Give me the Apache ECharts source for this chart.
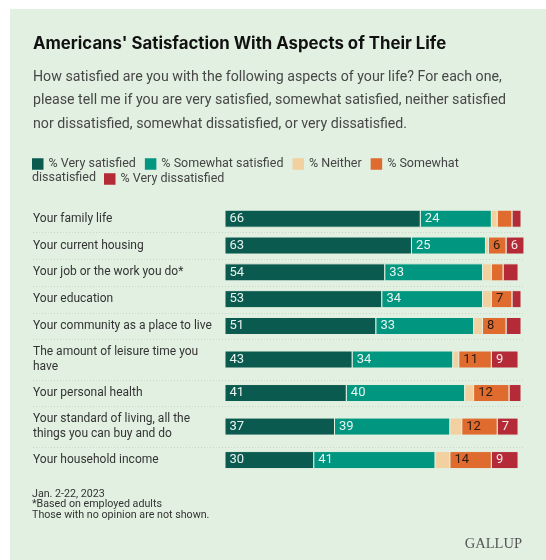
<!DOCTYPE html>
<html>
<head>
<meta charset="utf-8">
<script src="https://cdn.jsdelivr.net/npm/echarts@6/dist/echarts.min.js"></script>
<style>
  html, body { margin: 0; padding: 0; background: #ffffff; }
  #wrap { position: relative; width: 546px; height: 560px; background: #ffffff; overflow: hidden; }
  #panel { position: absolute; left: 10px; top: 9px; right: 0; bottom: 0; background: #e2f0e1; }
  #chart { position: absolute; left: 0; top: 0; width: 546px; height: 560px; }
</style>
</head>
<body>
<div id="wrap"><div id="panel"></div><div id="chart"></div></div>
<script>
// ---- data ----
const categories = [
  'Your family life',
  'Your current housing',
  'Your job or the work you do*',
  'Your education',
  'Your community as a place to live',
  'The amount of leisure time you\nhave',
  'Your personal health',
  'Your standard of living, all the\nthings you can buy and do',
  'Your household income'
];
const seriesNames = ['% Very satisfied', '% Somewhat satisfied', '% Neither', '% Somewhat dissatisfied', '% Very dissatisfied'];
const verySatisfied        = [66, 63, 54, 53, 51, 43, 41, 37, 30];
const somewhatSatisfied    = [24, 25, 33, 34, 33, 34, 40, 39, 41];
const neither              = [2, 1, 3, 3, 3, 2, 3, 4, 5];
const somewhatDissatisfied = [5, 6, 4, 7, 8, 11, 12, 12, 14];
const veryDissatisfied     = [3, 6, 5, 3, 5, 9, 4, 7, 9];
const titleText = "Americans' Satisfaction With Aspects of Their Life";
const subtitleText = 'How satisfied are you with the following aspects of your life? For each one,\nplease tell me if you are very satisfied, somewhat satisfied, neither satisfied\nnor dissatisfied, somewhat dissatisfied, or very dissatisfied.';
const footnoteText = 'Jan. 2-22, 2023\n*Based on employed adults\nThose with no opinion are not shown.';
const sourceText = 'GALLUP';

// ---- styling ----
const FONT = 'Roboto';
const BG = '#e2f0e1';
const colors = ['#0b5a4f', '#00967f', '#f2d09f', '#e06b2e', '#b42a37'];
const labelColors = ['#e8f3ef', '#e8f3ef', '#333333', '#2a1a10', '#f7e9e9'];
const LABEL_MIN = 6;
const BAR_H = 17;
const LABEL_OFFSET = 192;

// row layout on the value y axis: 1-line rows weigh 2 units, 2-line rows 3 units
const weights = categories.map(c => c.split('\n').length === 1 ? 2 : 3);
const totalUnits = weights.reduce((a, b) => a + b, 0);
const rowCenters = [];
const rowBounds = [];
let acc = 0;
weights.forEach((w, i) => {
  rowCenters.push(acc + w / 2);
  acc += w;
  if (i < weights.length - 1) rowBounds.push(acc);
});

const allValues = [verySatisfied, somewhatSatisfied, neither, somewhatDissatisfied, veryDissatisfied];
const starts = allValues.map((arr, k) => arr.map((_, i) => {
  let s = 0; for (let j = 0; j < k; j++) s += allValues[j][i]; return s;
}));

function segmentSeries(k) {
  return {
    type: 'custom',
    name: seriesNames[k],
    coordinateSystem: 'cartesian2d',
    itemStyle: { color: colors[k] },
    silent: true,
    encode: { x: [1, 2], y: 0 },
    data: allValues[k].map((v, i) => [rowCenters[i], starts[k][i], starts[k][i] + v, v]),
    renderItem: function (params, api) {
      const yc = api.value(0), s = api.value(1), e = api.value(2), v = api.value(3);
      const p0 = api.coord([s, yc]);
      const p1 = api.coord([e, yc]);
      const el = {
        type: 'rect',
        shape: { x: p0[0], y: p0[1] - BAR_H / 2, width: p1[0] - p0[0], height: BAR_H },
        style: { fill: colors[k], stroke: BG, lineWidth: 1 }
      };
      if (v >= LABEL_MIN) {
        el.textContent = {
          style: { text: String(v), fill: labelColors[k], fontSize: 13, fontFamily: FONT }
        };
        el.textConfig = { position: 'insideLeft', distance: 5 };
      }
      return el;
    }
  };
}

const labelSeries = {
  type: 'custom',
  name: 'labels',
  coordinateSystem: 'cartesian2d',
  silent: true,
  encode: { x: 0, y: 1 },
  data: categories.map((c, i) => [0, rowCenters[i]]),
  renderItem: function (params, api) {
    const p = api.coord([0, api.value(1)]);
    return {
      type: 'text',
      style: {
        text: categories[params.dataIndex],
        x: params.coordSys.x - LABEL_OFFSET,
        y: p[1],
        fill: '#333333',
        fontSize: 12,
        fontFamily: FONT,
        lineHeight: 14.5,
        align: 'left',
        verticalAlign: 'middle'
      }
    };
  }
};

const dividerSeries = {
  type: 'custom',
  name: 'dividers',
  coordinateSystem: 'cartesian2d',
  silent: true,
  encode: { x: 0, y: 1 },
  data: rowBounds.map(b => [0, b]),
  renderItem: function (params, api) {
    const p = api.coord([0, api.value(1)]);
    const y = Math.round(p[1]) + 0.5;
    return {
      type: 'line',
      shape: { x1: params.coordSys.x - LABEL_OFFSET, y1: y, x2: params.coordSys.x + params.coordSys.width + 2, y2: y },
      style: { stroke: '#c8d6c7', lineWidth: 1, lineDash: [1, 2] }
    };
  }
};

const chart = echarts.init(document.getElementById('chart'), null, { renderer: 'canvas' });
chart.setOption({
  backgroundColor: 'transparent',
  animation: false,
  title: {
    left: 33, top: 33.5, padding: 0, itemGap: 12,
    text: titleText,
    subtext: subtitleText,
    textStyle: { fontFamily: 'Inter', fontWeight: 'bold', fontSize: 16.8, color: '#111111', lineHeight: 20 },
    subtextStyle: { fontFamily: FONT, fontSize: 14.2, color: '#474747', lineHeight: 23.5 }
  },
  legend: [
    {
      data: seriesNames.slice(0, 4),
      left: 32, top: 157.5, padding: 0,
      icon: 'rect', itemWidth: 11.5, itemHeight: 11.5, itemGap: 9,
      selectedMode: false,
      formatter: n => n === '% Somewhat dissatisfied' ? '% Somewhat' : n,
      textStyle: { fontFamily: FONT, fontSize: 12.5, color: '#444444' }
    },
    {
      data: [seriesNames[4]],
      left: 104, top: 172.5, padding: 0,
      icon: 'rect', itemWidth: 11.5, itemHeight: 11.5,
      selectedMode: false,
      textStyle: { fontFamily: FONT, fontSize: 12.5, color: '#444444' }
    }
  ],
  graphic: [
    { type: 'text', left: 32, top: 171.5, style: { text: 'dissatisfied', fontFamily: FONT, fontSize: 12.5, fill: '#444444' } },
    { type: 'text', left: 32, top: 488.5, style: { text: footnoteText, fontFamily: FONT, fontSize: 10.7, lineHeight: 10.6, fill: '#333333' } },
    { type: 'text', right: 24, top: 537, style: { text: sourceText, fontFamily: 'Liberation Serif', fontSize: 14.5, fill: '#555555' } }
  ],
  grid: { left: 225, right: 25, top: 205.3, height: 268.2, containLabel: false },
  xAxis: { type: 'value', min: 0, max: 100, show: false },
  yAxis: { type: 'value', min: 0, max: totalUnits, inverse: true, show: false },
  series: [dividerSeries, labelSeries].concat([0, 1, 2, 3, 4].map(segmentSeries))
});
</script>
</body>
</html>
